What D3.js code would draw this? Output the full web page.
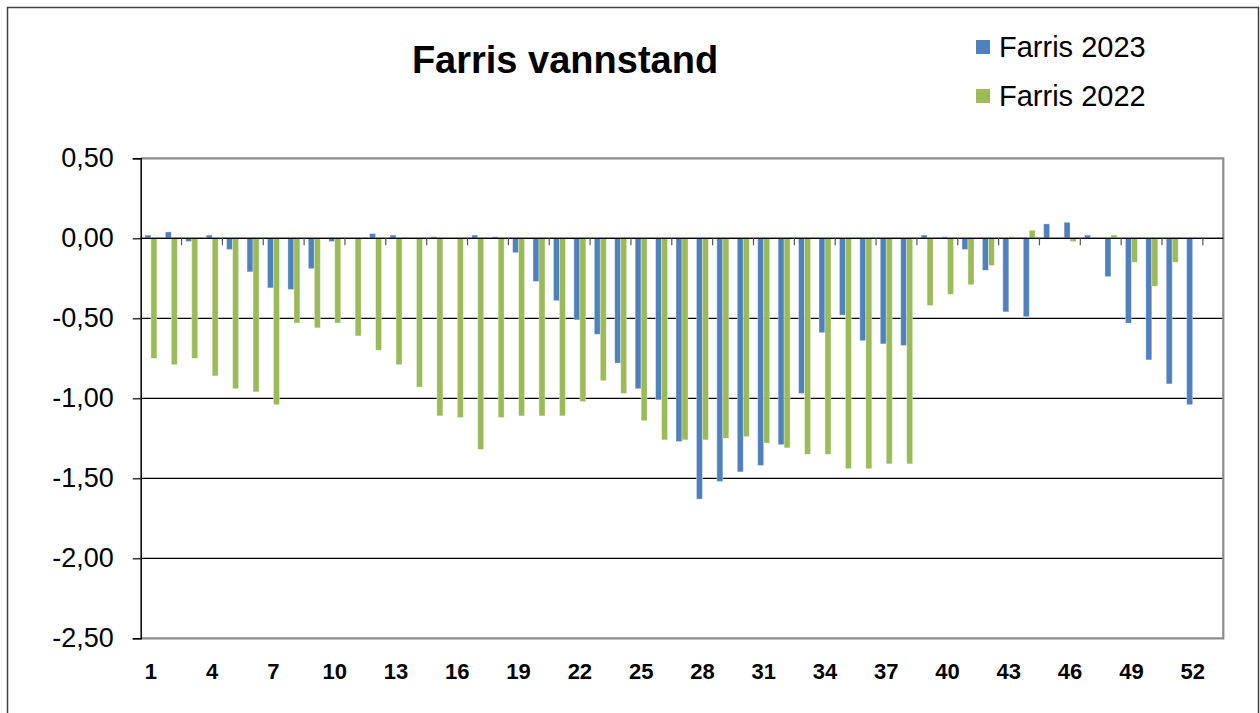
<!DOCTYPE html>
<html>
<head>
  <meta charset="utf-8">
  <title>Farris vannstand</title>
  <style>
    body {
      margin: 0;
      background: #fff;
      font-family: "Liberation Sans", Arial, sans-serif;
    }
  </style>
  <script src="https://d3js.org/d3.v7.min.js"></script>
</head>
<body>
  <svg id="chart" width="1260" height="713"></svg>

  <script>
    var width = 1260,
        height = 713;

    // week numbers on the category axis (53 slots, last one empty)
    var weeks = [1, 2, 3, 4, 5, 6, 7, 8, 9, 10, 11, 12, 13, 14, 15, 16, 17, 18, 19, 20,
                 21, 22, 23, 24, 25, 26, 27, 28, 29, 30, 31, 32, 33, 34, 35, 36, 37, 38, 39, 40,
                 41, 42, 43, 44, 45, 46, 47, 48, 49, 50, 51, 52, 53];
    var weekLabels = [1, 4, 7, 10, 13, 16, 19, 22, 25, 28, 31, 34, 37, 40, 43, 46, 49, 52];
    var yTicks = [0.5, 0, -0.5, -1, -1.5, -2, -2.5];

    var farris2023 = [0.02, 0.04, -0.02, 0.02, -0.07, -0.21, -0.31, -0.32, -0.19, -0.02,
                      0, 0.03, 0.02, 0, 0.01, 0, 0.02, 0.01, -0.09, -0.27,
                      -0.39, -0.51, -0.60, -0.78, -0.94, -1.01, -1.27, -1.63, -1.52, -1.46,
                      -1.42, -1.29, -0.97, -0.59, -0.48, -0.64, -0.66, -0.67, 0.02, 0.01,
                      -0.07, -0.20, -0.46, -0.49, 0.09, 0.10, 0.02, -0.24, -0.53, -0.76,
                      -0.91, -1.04];

    var farris2022 = [-0.75, -0.79, -0.75, -0.86, -0.94, -0.96, -1.04, -0.53, -0.56, -0.53,
                      -0.61, -0.70, -0.79, -0.93, -1.11, -1.12, -1.32, -1.12, -1.11, -1.11,
                      -1.11, -1.02, -0.89, -0.97, -1.14, -1.26, -1.26, -1.26, -1.25, -1.24,
                      -1.28, -1.31, -1.35, -1.35, -1.44, -1.44, -1.41, -1.41, -0.42, -0.35,
                      -0.29, -0.17, 0.01, 0.05, 0, -0.02, 0, 0.02, -0.15, -0.30,
                      -0.15, 0];

    var seriesNames = ["Farris 2023", "Farris 2022"];
    var colors = ["#4F81BD", "#9BBB59"];

    var plot = {left: 140.7, right: 1223.3, top: 158.3, bottom: 638.3};

    var svg = d3.select("#chart");

    // outer chart frame
    svg.append("rect")
        .attr("x", 7.5).attr("y", 7.5)
        .attr("width", 1251).attr("height", 720)
        .attr("fill", "#fff")
        .attr("stroke", "#404040")
        .attr("stroke-width", 1.5);

    var x = d3.scaleBand()
        .domain(weeks)
        .range([plot.left, plot.right])
        .padding(0);

    var x1 = d3.scaleBand()
        .domain(seriesNames)
        .range([x.bandwidth() / 2 - 6, x.bandwidth() / 2 + 6]);

    var y = d3.scaleLinear()
        .domain([-2.5, 0.5])
        .range([plot.bottom, plot.top]);

    var fmt = function(v) { return d3.format(".2f")(v).replace(".", ",").replace("−", "-"); };

    // gridlines
    svg.append("g")
        .selectAll("line")
        .data(yTicks.filter(d => d > -2.5 && d < 0.5))
        .join("line")
        .attr("x1", plot.left).attr("x2", plot.right)
        .attr("y1", d => y(d)).attr("y2", d => y(d))
        .attr("stroke", "#000")
        .attr("stroke-width", 1.2);

    // plot frame (top, right, bottom in grey)
    svg.append("path")
        .attr("d", `M${plot.left},${plot.top}H${plot.right}V${plot.bottom}H${plot.left}`)
        .attr("fill", "none")
        .attr("stroke", "#8c8c8c")
        .attr("stroke-width", 2.2);

    // bars
    var series = [farris2023, farris2022];
    series.forEach(function(values, si) {
      svg.append("g")
          .selectAll("rect")
          .data(values.map((v, i) => ({week: weeks[i], value: v})))
          .join("rect")
          .attr("x", d => x(d.week) + x1(seriesNames[si]))
          .attr("width", x1.bandwidth())
          .attr("y", d => y(Math.max(0, d.value)))
          .attr("height", d => Math.abs(y(d.value) - y(0)))
          .attr("fill", colors[si])
          .attr("stroke", "rgba(255,255,255,0.45)")
          .attr("stroke-width", 0.8);
    });

    // zero line + category ticks (every second week)
    svg.append("line")
        .attr("x1", plot.left).attr("x2", plot.right)
        .attr("y1", y(0)).attr("y2", y(0))
        .attr("stroke", "#000")
        .attr("stroke-width", 1.2);

    svg.append("g")
        .selectAll("line")
        .data(weeks.filter(w => w % 2 === 0))
        .join("line")
        .attr("x1", d => x(d) + x.bandwidth()).attr("x2", d => x(d) + x.bandwidth())
        .attr("y1", y(0)).attr("y2", y(0) + 7)
        .attr("stroke", "#555")
        .attr("stroke-width", 1.2);

    // y axis
    var yAxis = svg.append("g")
        .attr("transform", `translate(${plot.left},0)`)
        .call(d3.axisLeft(y).tickValues(yTicks).tickSize(8).tickPadding(19).tickFormat(fmt));
    yAxis.select(".domain").attr("stroke", "#000").attr("stroke-width", 1.5);
    yAxis.selectAll(".tick line").attr("stroke", "#000").attr("stroke-width", 1.2);
    yAxis.selectAll("text")
        .attr("fill", "#000")
        .style("font-family", "'Liberation Sans', Arial, sans-serif")
        .style("font-size", "27px");

    // x labels
    var xAxis = svg.append("g")
        .attr("transform", `translate(0,${plot.bottom})`)
        .call(d3.axisBottom(x).tickValues(weekLabels).tickSize(0).tickPadding(25));
    xAxis.select(".domain").remove();
    xAxis.selectAll("text")
        .attr("fill", "#000")
        .style("font-family", "'Liberation Sans', Arial, sans-serif")
        .style("font-size", "22px")
        .style("font-weight", "bold");

    // title
    svg.append("text")
        .attr("x", 565).attr("y", 73)
        .attr("text-anchor", "middle")
        .style("font-size", "38px")
        .style("font-weight", "bold")
        .text("Farris vannstand");

    // legend
    var legend = svg.append("g")
        .selectAll("g")
        .data(seriesNames)
        .join("g")
        .attr("transform", (d, i) => `translate(976,${40 + i * 49})`);
    legend.append("rect")
        .attr("width", 14).attr("height", 14)
        .attr("fill", (d, i) => colors[i]);
    legend.append("text")
        .attr("x", 23).attr("y", 17)
        .style("font-size", "29px")
        .text(d => d);
  </script>
</body>
</html>
